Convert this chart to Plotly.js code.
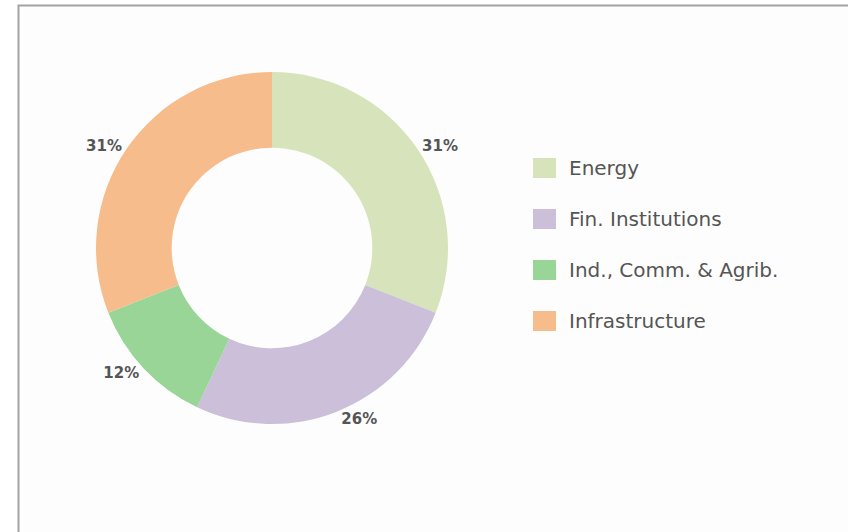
<!DOCTYPE html>
<html>
<head>
<meta charset="utf-8">
<script src="https://cdn.plot.ly/plotly-3.0.1.min.js"></script>
<style>
html,body{margin:0;padding:0;background:#fff;}
#chart{width:848px;height:532px;}
</style>
</head>
<body>
<div id="chart"></div>
<script>
const labels = ["Energy", "Fin. Institutions", "Ind., Comm. & Agrib.", "Infrastructure"];
const values = [31, 26, 12, 31];
const colors = ["#d7e4bb", "#cbbfda", "#98d596", "#f7bc8b"];

const W = 848, H = 532;
const px = x => x / W;
const py = y => 1 - y / H;

// pie geometry (pixels)
const cx = 272, cy = 248, R = 176;

const shapes = [{
  type: "rect", xref: "paper", yref: "paper",
  x0: px(18.5), x1: 1.1, y0: -0.1, y1: py(5.5),
  line: {color: "#a3a3a3", width: 2}, fillcolor: "#fdfdfd", layer: "below"
}];
const annotations = [];
const legX = 533, legY0 = 168, legGap = 51, sqW = 23, sqH = 20;
labels.forEach((lab, i) => {
  const yc = legY0 + i * legGap;
  shapes.push({
    type: "rect", xref: "paper", yref: "paper",
    x0: px(legX), x1: px(legX + sqW), y0: py(yc + sqH / 2), y1: py(yc - sqH / 2),
    line: {width: 0}, fillcolor: colors[i]
  });
  annotations.push({
    xref: "paper", yref: "paper", x: px(567), y: py(yc),
    xanchor: "left", yanchor: "middle", showarrow: false,
    text: lab, font: {family: "DejaVu Sans, sans-serif", size: 20, color: "#555555"}
  });
});

const data = [{
  type: "pie",
  labels: labels,
  values: values,
  hole: 0.57,
  sort: false,
  direction: "clockwise",
  rotation: 0,
  marker: {colors: colors, line: {width: 0}},
  textposition: "outside",
  texttemplate: "%{percent:.0%}",
  outsidetextfont: {family: "DejaVu Sans, sans-serif", size: 15, color: "#555", weight: "bold"},
  showlegend: false,
  domain: {x: [px(cx - R), px(cx + R)], y: [py(cy + R), py(cy - R)]},
  automargin: false
}];

const layout = {
  width: W, height: H,
  margin: {l: 0, r: 0, t: 0, b: 0},
  paper_bgcolor: "#ffffff",
  showlegend: false,
  shapes: shapes,
  annotations: annotations
};

Plotly.newPlot("chart", data, layout, {displayModeBar: false, staticPlot: true});
</script>
</body>
</html>
